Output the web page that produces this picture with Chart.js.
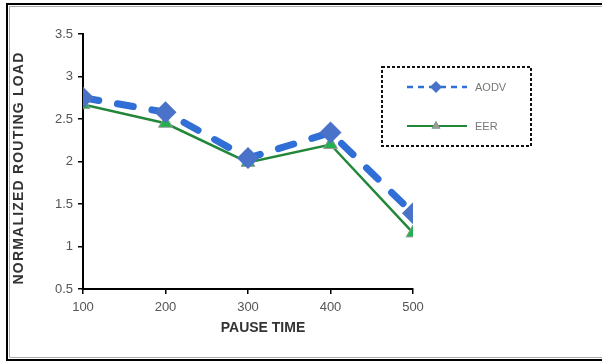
<!DOCTYPE html>
<html>
<head>
<meta charset="utf-8">
<script src="https://cdn.jsdelivr.net/npm/chart.js@4.4.1/dist/chart.umd.min.js"></script>
<style>
  html, body { margin: 0; padding: 0; background: #fff; overflow: hidden; }
  #grafico-wrap { width: 602px; height: 363px; }
</style>
</head>
<body>
<div id="grafico-wrap"><canvas id="grafico"></canvas></div>
<script>
const pauseTimes = [100, 200, 300, 400, 500];
const aodvLoad = [2.75, 2.58, 2.04, 2.34, 1.39];
const eerLoad = [2.67, 2.45, 1.99, 2.2, 1.16];
const serieNomes = ['AODV', 'EER'];
const tituloX = 'PAUSE TIME';
const tituloY = 'NORMALIZED ROUTING LOAD';

const fonte = "'Liberation Sans', Arial, sans-serif";
const azulLinha = '#2f6fd6';
const azulMarcador = '#4a72c8';
const verdeLinha = '#23873a';
const verdeMarcador = '#22b14c';

function pontos(valores) {
    return pauseTimes.map((t, i) => ({ x: t, y: valores[i] }));
}

function linha(ctx, x1, y1, x2, y2) {
    ctx.beginPath();
    ctx.moveTo(x1, y1);
    ctx.lineTo(x2, y2);
    ctx.stroke();
}

// moldura externa (sem lado direito), caixa da legenda e titulos dos eixos
const extras = {
    id: 'extras',
    beforeDraw(chart) {
        const ctx = chart.ctx;
        const w = chart.width;
        ctx.save();
        ctx.fillStyle = '#fff';
        ctx.fillRect(0, 0, w, chart.height);
        ctx.strokeStyle = '#aaa';
        ctx.lineWidth = 1;
        linha(ctx, 9.5, 6.5, w, 6.5);
        linha(ctx, 9.5, 6.5, 9.5, 357.5);
        linha(ctx, 9.5, 357.5, w, 357.5);
        ctx.strokeStyle = '#000';
        ctx.lineWidth = 2;
        linha(ctx, 6, 4, w, 4);
        linha(ctx, 7, 4, 7, 360);
        linha(ctx, 6, 360, w, 360);
        ctx.restore();
    },
    afterDraw(chart) {
        const ctx = chart.ctx;
        const ds = chart.data.datasets;
        ctx.save();

        // caixa da legenda
        ctx.strokeStyle = '#111';
        ctx.lineWidth = 2;
        ctx.setLineDash([3, 2]);
        ctx.strokeRect(382, 67, 149, 79);
        ctx.setLineDash([]);

        const linhas = [87, 126];
        ds.forEach((d, i) => {
            const y = linhas[i];
            ctx.strokeStyle = d.borderColor;
            ctx.lineWidth = i === 0 ? 2.5 : 2;
            ctx.setLineDash(i === 0 ? [6, 5] : []);
            linha(ctx, 407, y, 467, y);
            ctx.setLineDash([]);
            Chart.helpers.drawPoint(ctx, {
                pointStyle: d.pointStyle,
                radius: i === 0 ? 4 : 3,
                borderWidth: 1,
                rotation: 0
            }, 436, y);
            ctx.fillStyle = i === 0 ? d.pointBackgroundColor : '#aaa';
            ctx.strokeStyle = i === 0 ? d.pointBackgroundColor : '#999';
            ctx.fill();
            ctx.stroke();

            ctx.fillStyle = '#777';
            ctx.font = '11px ' + fonte;
            ctx.textAlign = 'left';
            ctx.textBaseline = 'middle';
            ctx.fillText(d.label, 475, y + 1);
        });

        // titulos dos eixos
        ctx.fillStyle = '#333';
        ctx.font = 'bold 14px ' + fonte;
        ctx.textAlign = 'center';
        ctx.textBaseline = 'middle';
        ctx.fillText(tituloX, 263, 328);

        ctx.translate(19, 168);
        ctx.rotate(-Math.PI / 2);
        ctx.letterSpacing = '1.2px';
        ctx.fillText(tituloY, 0, 0);
        ctx.restore();
    }
};

new Chart(document.getElementById('grafico'), {
    type: 'line',
    data: {
        datasets: [{
            label: serieNomes[0],
            data: pontos(aodvLoad),
            borderColor: azulLinha,
            borderWidth: 7,
            borderDash: [16, 19],
            borderCapStyle: 'round',
            pointStyle: 'rectRot',
            pointRadius: 11,
            pointBorderWidth: 0,
            pointBackgroundColor: azulMarcador,
            pointBorderColor: azulMarcador,
            tension: 0
        }, {
            label: serieNomes[1],
            data: pontos(eerLoad),
            borderColor: verdeLinha,
            borderWidth: 2.5,
            pointStyle: 'triangle',
            pointRadius: 8,
            pointBorderWidth: 1,
            pointBackgroundColor: verdeMarcador,
            pointBorderColor: '#999',
            tension: 0
        }]
    },
    options: {
        responsive: true,
        maintainAspectRatio: false,
        animation: false,
        layout: { padding: { left: 0, top: 34, right: 189, bottom: 0 } },
        plugins: {
            legend: { display: false },
            tooltip: { enabled: false }
        },
        scales: {
            x: {
                type: 'linear',
                min: 100,
                max: 500,
                afterFit(scale) { scale.height = 74; },
                ticks: {
                    stepSize: 100,
                    color: '#555',
                    padding: 6,
                    font: { family: fonte, size: 13 }
                },
                grid: { drawOnChartArea: false, drawTicks: true, tickLength: 5, color: '#000', lineWidth: 1.5 },
                border: { color: '#000', width: 2 }
            },
            y: {
                min: 0.5,
                max: 3.5,
                afterFit(scale) { scale.width = 83; },
                ticks: {
                    stepSize: 0.5,
                    color: '#555',
                    padding: 5,
                    font: { family: fonte, size: 13 },
                    callback: (valor) => String(valor)
                },
                grid: { drawOnChartArea: false, drawTicks: true, tickLength: 5, color: '#000', lineWidth: 1.5 },
                border: { color: '#000', width: 2 }
            }
        }
    },
    plugins: [extras]
});
</script>
</body>
</html>
